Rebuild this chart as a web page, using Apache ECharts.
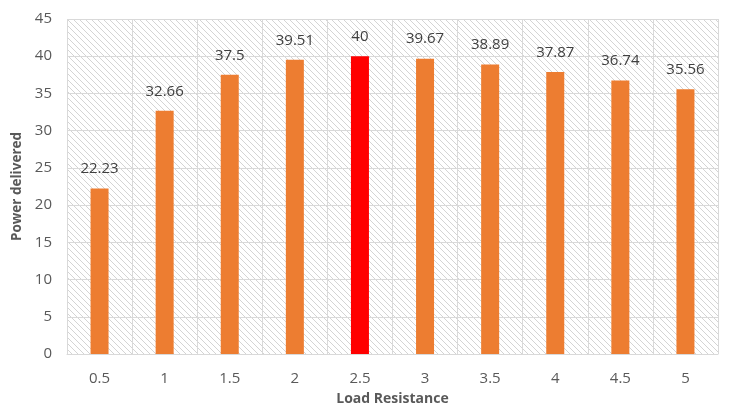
<!DOCTYPE html>
<html>
<head>
<meta charset="utf-8">
<script src="https://cdn.jsdelivr.net/npm/echarts@6/dist/echarts.min.js"></script>
<style>
  html, body { margin: 0; padding: 0; background: #fff; }
  #chart { width: 735px; height: 406px; }
</style>
</head>
<body>
<div id="chart"></div>
<script>
const categories = ['0.5', '1', '1.5', '2', '2.5', '3', '3.5', '4', '4.5', '5'];
const powerValues = [22.23, 32.66, 37.5, 39.51, 40, 39.67, 38.89, 37.87, 36.74, 35.56];
const peakIndex = 4;

// diagonal hatch for the plot area
function hatch() {
  const c = document.createElement('canvas');
  c.width = 6;
  c.height = 6;
  const ctx = c.getContext('2d');
  ctx.fillStyle = '#ffffff';
  ctx.fillRect(0, 0, 6, 6);
  ctx.strokeStyle = '#d4d4d4';
  ctx.lineWidth = 1;
  ctx.beginPath();
  ctx.moveTo(-1, -1); ctx.lineTo(7, 7);
  ctx.moveTo(-4, 2); ctx.lineTo(4, 10);
  ctx.moveTo(2, -4); ctx.lineTo(10, 4);
  ctx.stroke();
  return { image: c, repeat: 'repeat' };
}

const chart = echarts.init(document.getElementById('chart'));
chart.setOption({
  animation: false,
  textStyle: { fontFamily: 'Open Sans, Liberation Sans, sans-serif' },
  grid: {
    left: 67, right: 17, top: 19, bottom: 52,
    outerBoundsMode: 'none',
    containLabel: false,
    show: true,
    backgroundColor: hatch(),
    borderWidth: 0,
  },
  xAxis: {
    type: 'category',
    data: categories,
    name: 'Load Resistance',
    nameLocation: 'middle',
    nameGap: 38,
    nameTextStyle: { fontWeight: 'bold', fontSize: 14, color: '#595959' },
    axisLine: { show: true, lineStyle: { color: '#d9d9d9' } },
    axisTick: { show: false },
    axisLabel: { fontSize: 15, color: '#595959', margin: 17 },
    splitLine: { show: true, lineStyle: { color: '#d9d9d9' } },
  },
  yAxis: {
    type: 'value',
    min: 0,
    max: 45,
    interval: 5,
    name: 'Power delivered',
    nameLocation: 'middle',
    nameGap: 42,
    nameTextStyle: { fontWeight: 'bold', fontSize: 13.5, color: '#595959' },
    axisLine: { show: false },
    axisTick: { show: false },
    axisLabel: { fontSize: 15, color: '#595959', margin: 15 },
    splitLine: { show: true, lineStyle: { color: '#d9d9d9' } },
  },
  series: [
    {
      type: 'bar',
      barWidth: 18,
      data: powerValues.map((v, i) => ({
        value: v,
        itemStyle: { color: i === peakIndex ? '#ff0000' : '#ed7d31' },
      })),
      label: {
        show: true,
        position: 'top',
        distance: 12,
        fontSize: 15,
        color: '#404040',
      },
    },
  ],
});
</script>
</body>
</html>
